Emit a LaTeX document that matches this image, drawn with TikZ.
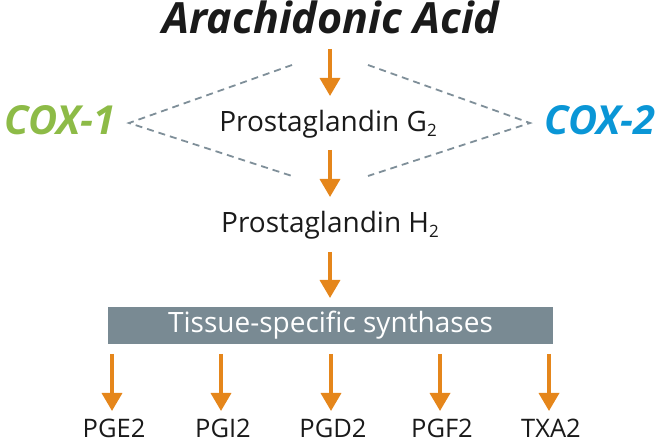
\documentclass[tikz,border=0pt]{standalone}
\usepackage{fontspec}
\setmainfont{Open Sans}
\usetikzlibrary{arrows.meta}
\definecolor{arrorange}{HTML}{E5861B}
\definecolor{coxgreen}{HTML}{8DBB47}
\definecolor{coxblue}{HTML}{0A96D6}
\definecolor{boxgray}{HTML}{798A93}
\definecolor{dashgray}{HTML}{7F8F99}
\definecolor{txtblack}{HTML}{1A1A1A}
\newcommand{\subtwo}{\raisebox{-5pt}{\fontsize{17}{17}\selectfont 2}}
\tikzset{
  flowarrow/.style={draw=arrorange, line width=3.5pt, -{Triangle[width=20pt,length=18pt]}, shorten >=0pt},
  cxline/.style={draw=dashgray, line width=1.8pt, dash pattern=on 7pt off 5pt},
  lbl/.style={anchor=base, inner sep=0pt, text=txtblack, font=\fontsize{28}{28}\selectfont},
  prod/.style={anchor=base, inner sep=0pt, text=txtblack, font=\fontsize{25.5}{25.5}\selectfont},
  cox/.style={anchor=base, inner sep=0pt, font=\fontsize{40}{40}\selectfont\bfseries\itshape},
}
\begin{document}
\begin{tikzpicture}[x=1pt,y=-1pt]
\useasboundingbox (0,0) rectangle (664,443);
% title
\node[anchor=base, inner sep=0pt, text=txtblack, font=\fontsize{43}{43}\selectfont\bfseries\itshape] (aa) at (331,34) {Arachidonic Acid};
% COX labels
\node[cox, text=coxgreen] (cox1) at (60,135) {COX-1};
\node[cox, text=coxblue] (cox2) at (600,135) {COX-2};
% prostaglandins
\node[lbl] (pgg) at (328,132) {Prostaglandin G\subtwo};
\node[lbl] (pgh) at (330,233) {Prostaglandin H\subtwo};
% box
\node[fill=boxgray, minimum width=445pt, minimum height=37pt, inner sep=0pt, text=white, font=\fontsize{28}{28}\selectfont] (box) at (330.5,325.5) {Tissue-specific synthases};
% arrow coordinates
\coordinate (a1s) at (330,49);
\coordinate (a1e) at (330,96);
\coordinate (a2s) at (330,150);
\coordinate (a2e) at (330,197);
\coordinate (a3s) at (330,252);
\coordinate (a3e) at (330,298);
\draw[flowarrow] (a1s) -- (a1e);
\draw[flowarrow] (a2s) -- (a2e);
\draw[flowarrow] (a3s) -- (a3e);
% dashed lines
\coordinate (l1) at (129,123);
\coordinate (lt) at (292,65);
\coordinate (lb) at (292,176);
\coordinate (r1) at (530,123);
\coordinate (rt) at (368,65);
\coordinate (rb) at (368,176);
\draw[cxline] (lt) -- (l1) -- (lb);
\draw[cxline] (rt) -- (r1) -- (rb);
% products
\foreach \x/\name/\txt in {112/pe/PGE2, 221/pi/PGI2, 331/pd/PGD2, 440/pf/PGF2, 549/tx/TXA2}{
  \coordinate (s\name) at (\x,354);
  \coordinate (e\name) at (\x,411);
  \draw[flowarrow] (s\name) -- (e\name);
  \node[prod] (\name) at (\x+2,438) {\txt};
}
\end{tikzpicture}
\end{document}
